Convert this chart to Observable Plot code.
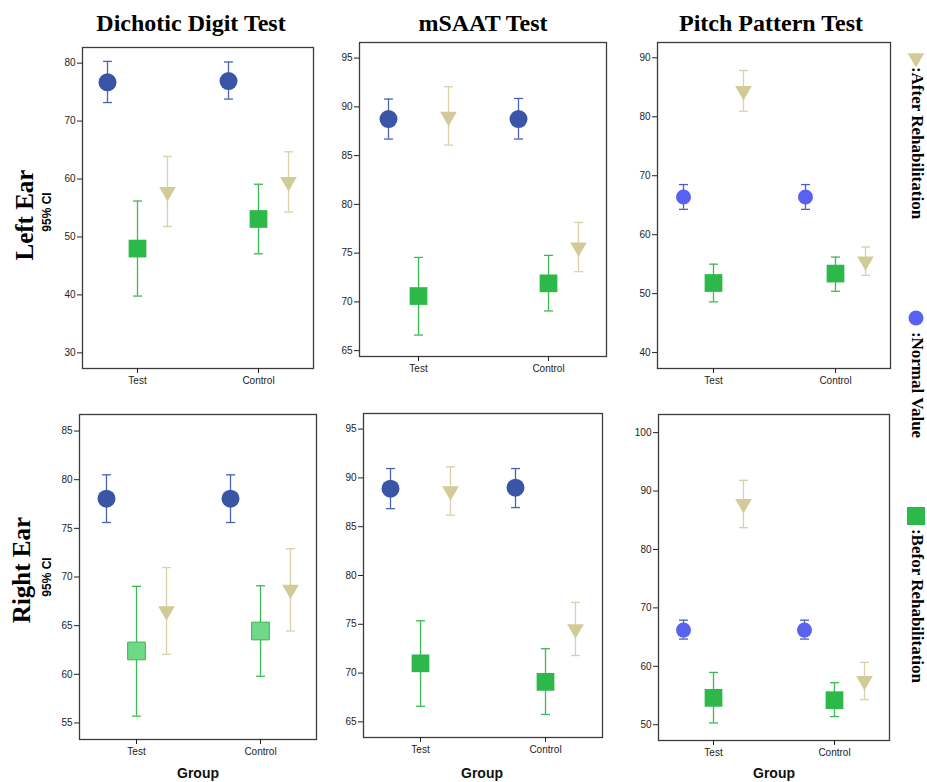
<!DOCTYPE html>
<html><head><meta charset="utf-8">
<script src="https://cdn.jsdelivr.net/npm/d3@7"></script>
<script src="https://cdn.jsdelivr.net/npm/@observablehq/plot@0.6"></script>
<style>
body{margin:0;background:#fff;}
#root{position:relative;width:927px;height:782px;overflow:hidden;background:#fff;}
.abs{position:absolute;white-space:nowrap;line-height:1;}
.title{font-family:"Liberation Serif","Times New Roman",serif;font-weight:bold;font-size:24px;color:#000;transform:translate(-50%,0);}
.row{font-family:"Liberation Serif","Times New Roman",serif;font-weight:bold;font-size:25px;color:#000;transform:translate(-50%,-50%) rotate(-90deg);}
.ci{font-family:"Liberation Sans",Arial,sans-serif;font-weight:bold;font-size:12px;color:#000;transform:translate(-50%,-50%) rotate(-90deg);}
.grp{font-family:"Liberation Sans",Arial,sans-serif;font-weight:bold;font-size:14px;color:#111;transform:translate(-50%,-50%);}
.leg{font-family:"Liberation Serif","Times New Roman",serif;font-weight:bold;font-size:17px;color:#000;transform:translate(-50%,-50%) rotate(90deg);}
</style></head><body><div id="root"></div>
<script>
// ---- categories / labels ----
const groups = ["Test", "Control"];
const tests = ["Dichotic Digit Test", "mSAAT Test", "Pitch Pattern Test"];
const ears = ["Left Ear", "Right Ear"];
const seriesNames = [":After Rehabilitation", ":Normal Value", ":Befor Rehabilitation"];
const ciLabel = "95% CI";
const xTitle = "Group";

// ---- values: per group [mean, lower 95% CI, upper 95% CI] for Test, Control ----
// Left ear - Dichotic Digit Test
const ddtLeftNormal = [[76.7, 73.2, 80.3], [76.9, 73.8, 80.2]];
const ddtLeftBefore = [[48.0, 39.8, 56.2], [53.1, 47.1, 59.1]];
const ddtLeftAfter  = [[57.8, 51.8, 63.9], [59.5, 54.3, 64.7]];
// Left ear - mSAAT Test
const msaatLeftNormal = [[88.75, 86.7, 90.8], [88.75, 86.7, 90.86]];
const msaatLeftBefore = [[70.6, 66.6, 74.56], [71.9, 69.07, 74.77]];
const msaatLeftAfter  = [[89.0, 86.08, 92.06], [75.6, 73.1, 78.15]];
// Left ear - Pitch Pattern Test
const pptLeftNormal = [[66.4, 64.3, 68.5], [66.4, 64.3, 68.5]];
const pptLeftBefore = [[51.8, 48.6, 55.0], [53.4, 50.4, 56.2]];
const pptLeftAfter  = [[84.4, 80.95, 87.85], [55.5, 53.1, 57.9]];
// Right ear - Dichotic Digit Test
const ddtRightNormal = [[78.05, 75.6, 80.5], [78.05, 75.6, 80.5]];
const ddtRightBefore = [[62.4, 55.7, 69.04], [64.45, 59.8, 69.1]];
const ddtRightAfter  = [[66.5, 62.06, 70.97], [68.7, 64.45, 72.9]];
// Right ear - mSAAT Test
const msaatRightNormal = [[88.9, 86.85, 90.96], [89.0, 86.96, 90.96]];
const msaatRightBefore = [[71.0, 66.6, 75.36], [69.1, 65.76, 72.5]];
const msaatRightAfter  = [[88.65, 86.18, 91.13], [74.5, 71.8, 77.25]];
// Right ear - Pitch Pattern Test
const pptRightNormal = [[66.2, 64.66, 67.9], [66.2, 64.66, 67.9]];
const pptRightBefore = [[54.6, 50.3, 58.95], [54.2, 51.4, 57.2]];
const pptRightAfter  = [[87.8, 83.73, 91.83], [57.5, 54.3, 60.67]];

// ---- y tick labels ----
const ddtLeftTicks = [30, 40, 50, 60, 70, 80];
const msaatLeftTicks = [65, 70, 75, 80, 85, 90, 95];
const pptLeftTicks = [40, 50, 60, 70, 80, 90];
const ddtRightTicks = [55, 60, 65, 70, 75, 80, 85];
const msaatRightTicks = [65, 70, 75, 80, 85, 90, 95];
const pptRightTicks = [50, 60, 70, 80, 90, 100];

// ---- styles ----
const C_NORMAL = "#3b55a6", C_NORMAL_PITCH = "#5961f0", C_NORMAL_BAR = "#4a63b3";
const C_BEFORE = "#2db84a", C_BEFORE_LIGHT = "#6fd987", C_BEFORE_BAR = "#3dba52";
const C_AFTER = "#d3cb97", C_AFTER_BAR = "#d8d1a9";

// horizontal cap symbol for error bar ends
const capSymbol = {draw(ctx) { ctx.moveTo(-4.5, 0); ctx.lineTo(4.5, 0); }};

const root = document.getElementById("root");
function addDiv(cls, text, left, top) {
  const d = document.createElement("div");
  d.className = "abs " + cls;
  d.textContent = text;
  d.style.left = left + "px";
  d.style.top = top + "px";
  root.appendChild(d);
  return d;
}

function toRows(arr) {
  return groups.map((g, i) => ({group: g, mean: arr[i][0], lo: arr[i][1], hi: arr[i][2]}));
}

function panel(cfg) {
  const ml = 40, mr = 2, mt = 2, mb = 30;
  const W = cfg.frame[2] - cfg.frame[0] + ml + mr;
  const H = cfg.frame[3] - cfg.frame[1] + mt + mb;
  const series = [
    {data: toRows(cfg.normal), dx: -30, bar: C_NORMAL_BAR, fill: cfg.pitch ? C_NORMAL_PITCH : C_NORMAL,
     symbol: "circle", r: cfg.pitch ? 7.5 : 9, rotate: 0, stroke: "none"},
    {data: toRows(cfg.before), dx: 0, bar: C_BEFORE_BAR, fill: cfg.lightSquare ? C_BEFORE_LIGHT : C_BEFORE,
     symbol: "square", r: 10, rotate: 0, stroke: cfg.lightSquare ? "#3cb553" : "none"},
    {data: toRows(cfg.after), dx: 30, bar: C_AFTER_BAR, fill: C_AFTER,
     symbol: "triangle", r: 6.2, rotate: 180, stroke: "none"}
  ];
  const marks = [];
  for (const s of series) {
    marks.push(Plot.ruleX(s.data, {x: "group", y1: "lo", y2: "hi", dx: s.dx, stroke: s.bar, strokeWidth: 1.3}));
    marks.push(Plot.dot(s.data, {x: "group", y: "lo", dx: s.dx, symbol: capSymbol, fill: "none", stroke: s.bar, strokeWidth: 1.3}));
    marks.push(Plot.dot(s.data, {x: "group", y: "hi", dx: s.dx, symbol: capSymbol, fill: "none", stroke: s.bar, strokeWidth: 1.3}));
  }
  for (const s of series) {
    marks.push(Plot.dot(s.data, {x: "group", y: "mean", dx: s.dx, symbol: s.symbol, r: s.r, fill: s.fill,
      stroke: s.stroke, strokeWidth: 1, rotate: s.rotate}));
  }
  marks.push(Plot.frame({stroke: "#3c3c3c", strokeWidth: 1.3}));
  marks.push(Plot.axisX({tickSize: 5, tickPadding: 3, label: null, fontSize: 10}));
  marks.push(Plot.axisY(cfg.ticks, {tickSize: 5, tickPadding: 2, label: null, fontSize: 10}));
  const svg = Plot.plot({
    width: W, height: H,
    marginLeft: ml, marginRight: mr, marginTop: mt, marginBottom: mb,
    style: {fontFamily: "'Liberation Sans', Arial, sans-serif", fontSize: "10px", color: "#222", background: "transparent", overflow: "visible"},
    x: {type: "point", domain: groups, padding: 0.45},
    y: {domain: cfg.yDomain},
    marks
  });
  const wrap = document.createElement("div");
  wrap.className = "abs";
  wrap.style.left = (cfg.frame[0] - ml) + "px";
  wrap.style.top = (cfg.frame[1] - mt) + "px";
  wrap.appendChild(svg);
  root.appendChild(wrap);
}

// Top row (Left Ear)
panel({frame: [82, 47, 313, 368], yDomain: [27.3, 82.7], ticks: ddtLeftTicks,
  normal: ddtLeftNormal, before: ddtLeftBefore, after: ddtLeftAfter});
panel({frame: [359, 42, 606, 356], yDomain: [64.4, 96.6], ticks: msaatLeftTicks,
  normal: msaatLeftNormal, before: msaatLeftBefore, after: msaatLeftAfter});
panel({frame: [657, 42, 890, 368], yDomain: [37.3, 92.6], ticks: pptLeftTicks, pitch: true,
  normal: pptLeftNormal, before: pptLeftBefore, after: pptLeftAfter});
// Bottom row (Right Ear)
panel({frame: [79, 414, 316, 739], yDomain: [53.3, 86.7], ticks: ddtRightTicks, lightSquare: true,
  normal: ddtRightNormal, before: ddtRightBefore, after: ddtRightAfter});
panel({frame: [363, 413, 602, 737], yDomain: [63.4, 96.6], ticks: msaatRightTicks,
  normal: msaatRightNormal, before: msaatRightBefore, after: msaatRightAfter});
panel({frame: [658, 414, 889, 740], yDomain: [47.3, 103.1], ticks: pptRightTicks, pitch: true,
  normal: pptRightNormal, before: pptRightBefore, after: pptRightAfter});

// Column titles
addDiv("title", tests[0], 191, 11);
addDiv("title", tests[1], 483, 11);
addDiv("title", tests[2], 771, 11);
// Row labels
addDiv("row", ears[0], 24, 215);
addDiv("ci", ciLabel, 47, 212);
addDiv("row", ears[1], 21, 570);
addDiv("ci", ciLabel, 47, 577);
// x titles
addDiv("grp", xTitle, 198, 773);
addDiv("grp", xTitle, 482, 773);
addDiv("grp", xTitle, 774, 773);

// Legend swatches (right side)
const legSvg = d3.select(root).append("svg")
  .attr("class", "abs").attr("width", 40).attr("height", 782)
  .style("left", "896px").style("top", "0px");
legSvg.append("path").attr("d", d3.symbol(d3.symbolTriangle, 120)())
  .attr("transform", "translate(20 58) rotate(180)").attr("fill", C_AFTER);
legSvg.append("circle").attr("cx", 20).attr("cy", 318).attr("r", 7.5).attr("fill", C_NORMAL_PITCH);
legSvg.append("rect").attr("x", 11).attr("y", 507).attr("width", 18).attr("height", 18).attr("fill", C_BEFORE);
addDiv("leg", seriesNames[0], 917, 143);
addDiv("leg", seriesNames[1], 917, 385);
addDiv("leg", seriesNames[2], 917, 606);
</script></body></html>
